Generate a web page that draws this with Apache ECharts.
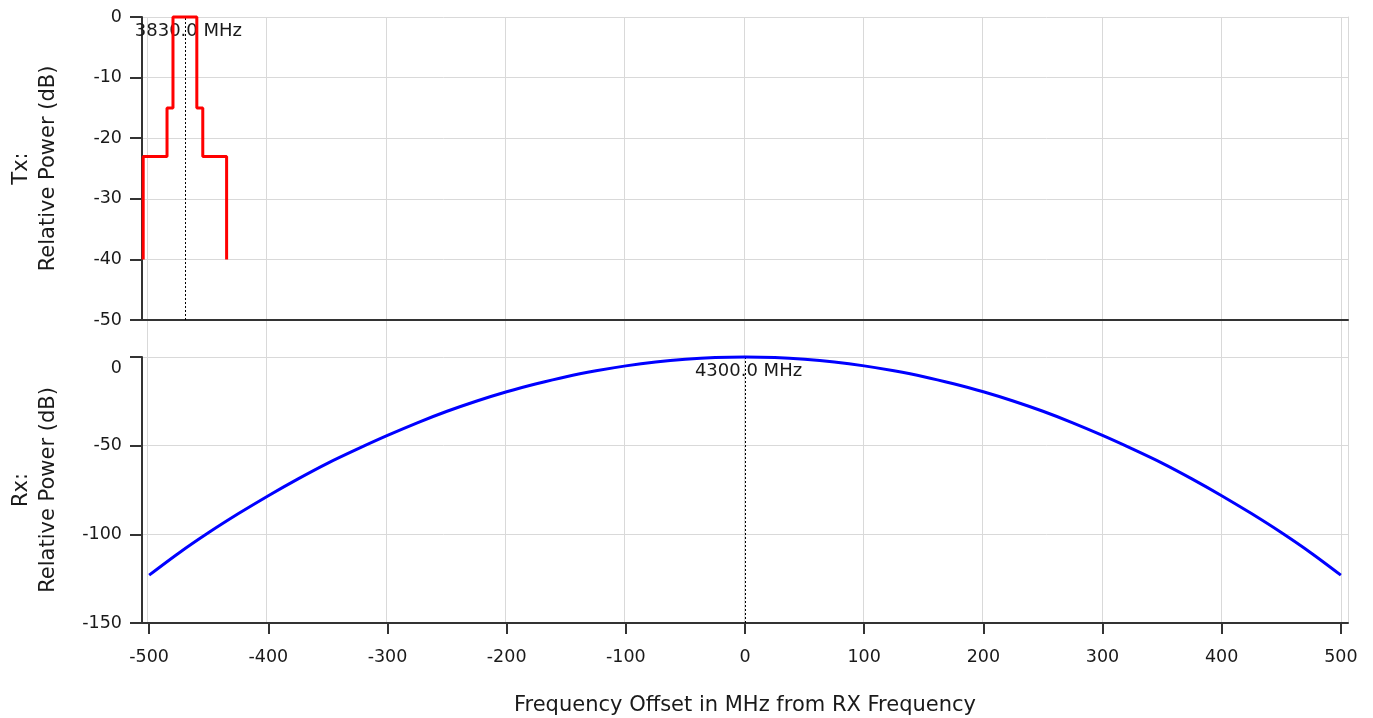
<!DOCTYPE html>
<html>
<head>
<meta charset="utf-8">
<script src="https://cdn.jsdelivr.net/npm/echarts@6/dist/echarts.min.js"></script>
<style>
html,body{margin:0;padding:0;background:#fff;}
#chart{width:1373px;height:718px;}
</style>
</head>
<body>
<div id="chart"></div>
<script>
// ---- data ----
const xMin = -506;
const xMax = 506;
const xTicks = [-500, -400, -300, -200, -100, 0, 100, 200, 300, 400, 500];
const txYTicks = [0, -10, -20, -30, -40, -50];
const rxYTicks = [0, -50, -100, -150];

const txFreq  = [-505, -505, -485, -485, -480, -480, -460, -460, -455, -455, -435, -435];
const txPower = [-40,  -23,  -23,  -15,  -15,   0,    0,   -15,  -15,  -23,  -23,  -40];

const rxFreq  = [-500, -475, -450, -425, -400, -375, -350, -325, -300, -275, -250, -225, -200, -175, -150, -125, -100, -75, -50, -25,
                 0, 25, 50, 75, 100, 125, 150, 175, 200, 225, 250, 275, 300, 325, 350, 375, 400, 425, 450, 475, 500];
const rxPower = [-123, -110.5, -99, -88.3, -78.2, -68.7, -59.8, -51.8, -44.2, -37.1, -30.6, -24.8, -19.6, -15.1, -11.1, -7.8, -5, -2.8, -1.25, -0.3,
                 0, -0.3, -1.25, -2.8, -5, -7.8, -11.1, -15.1, -19.6, -24.8, -30.6, -37.1, -44.2, -51.8, -59.8, -68.7, -78.2, -88.3, -99, -110.5, -123];

const txMarkerFreq = -470;
const txMarkerLabel = '3830.0 MHz';
const rxMarkerFreq = 0;
const rxMarkerLabel = '4300.0 MHz';

const txAxisName = 'Tx:\nRelative Power (dB)';
const rxAxisName = 'Rx:\nRelative Power (dB)';
const xAxisName = 'Frequency Offset in MHz from RX Frequency';

// ---- styles ----
const FONT = 'DejaVu Sans';
const gridColor = '#d9d9d9';
const axisColor = '#333333';
const textColor = '#1a1a1a';

const txData = txFreq.map((f, i) => [f, txPower[i]]);
const rxData = rxFreq.map((f, i) => [f, rxPower[i]]);

const L = 140, W = 1208;

const chart = echarts.init(document.getElementById('chart'), null, {renderer: 'canvas'});
chart.setOption({
  animation: false,
  backgroundColor: '#fff',
  grid: [
    {left: L, top: 17, width: W, height: 606},
    {left: L, top: 17, width: W, height: 303},
    {left: L, top: 357, width: W, height: 266}
  ],
  xAxis: [
    {
      gridIndex: 0, type: 'value', min: xMin, max: xMax,
      axisLine: {show: false},
      axisTick: {show: false, customValues: xTicks},
      axisLabel: {show: false, customValues: xTicks},
      splitLine: {show: true, lineStyle: {color: gridColor, width: 1}}
    },
    {
      gridIndex: 1, type: 'value', min: xMin, max: xMax,
      axisLine: {show: true, onZero: false, lineStyle: {color: axisColor, width: 2}},
      axisTick: {show: false},
      axisLabel: {show: false},
      splitLine: {show: false}
    },
    {
      gridIndex: 2, type: 'value', min: xMin, max: xMax,
      axisLine: {show: true, onZero: false, lineStyle: {color: axisColor, width: 2}},
      axisTick: {show: true, length: 11, customValues: xTicks, lineStyle: {color: axisColor, width: 2}},
      axisLabel: {show: true, customValues: xTicks, margin: 25, fontFamily: FONT, fontSize: 17.5, color: textColor},
      splitLine: {show: false},
      name: xAxisName, nameLocation: 'middle', nameGap: 72,
      nameTextStyle: {fontFamily: FONT, fontSize: 21, color: textColor}
    }
  ],
  yAxis: [
    {
      gridIndex: 0, type: 'value', min: 0, max: 1, position: 'right',
      axisLine: {show: true, onZero: false, lineStyle: {color: gridColor, width: 1}},
      axisTick: {show: false}, axisLabel: {show: false}, splitLine: {show: false}
    },
    {
      gridIndex: 1, type: 'value', min: -50, max: 0, interval: 10,
      axisLine: {show: true, onZero: false, lineStyle: {color: axisColor, width: 2}},
      axisTick: {show: true, length: 12, lineStyle: {color: axisColor, width: 2}},
      axisLabel: {margin: 20, fontFamily: FONT, fontSize: 17.5, color: textColor},
      splitLine: {show: true, lineStyle: {color: gridColor, width: 1}},
      name: txAxisName, nameLocation: 'middle', nameGap: 80, nameRotate: 90,
      nameTextStyle: {fontFamily: FONT, fontSize: 21, lineHeight: 27, color: textColor, align: 'center'}
    },
    {
      gridIndex: 2, type: 'value', min: -150, max: 0, interval: 50,
      axisLine: {show: true, onZero: false, lineStyle: {color: axisColor, width: 2}},
      axisTick: {show: true, length: 12, lineStyle: {color: axisColor, width: 2}},
      axisLabel: {
        margin: 20, fontFamily: FONT, fontSize: 17.5, color: textColor,
        formatter: function (v) { return v === 0 ? '{z|0}' : String(v); },
        rich: {z: {fontFamily: FONT, fontSize: 17.5, color: textColor, padding: [22, 0, 0, 0]}}
      },
      splitLine: {show: true, lineStyle: {color: gridColor, width: 1}},
      name: rxAxisName, nameLocation: 'middle', nameGap: 80, nameRotate: 90,
      nameTextStyle: {fontFamily: FONT, fontSize: 21, lineHeight: 27, color: textColor, align: 'center'}
    }
  ],
  series: [
    {
      type: 'line', xAxisIndex: 1, yAxisIndex: 1, data: txData,
      showSymbol: false, clip: false, z: 5,
      lineStyle: {color: '#ff0000', width: 3},
      markLine: {
        silent: true, symbol: 'none',
        lineStyle: {color: '#000', type: [2, 2], width: 1},
        label: {show: false},
        data: [{xAxis: txMarkerFreq}]
      },
      markPoint: {
        silent: true, symbol: 'circle', symbolSize: 0,
        label: {show: true, position: 'bottom', distance: 5, offset: [3.5, 0], formatter: txMarkerLabel,
                fontFamily: FONT, fontSize: 18, color: textColor},
        data: [{coord: [txMarkerFreq, 0]}]
      }
    },
    {
      type: 'line', xAxisIndex: 2, yAxisIndex: 2, data: rxData,
      showSymbol: false, clip: false, smooth: 0.3, z: 5,
      lineStyle: {color: '#0000ff', width: 3},
      markLine: {
        silent: true, symbol: 'none',
        lineStyle: {color: '#000', type: [2, 2], width: 1},
        label: {show: false},
        data: [{xAxis: rxMarkerFreq}]
      },
      markPoint: {
        silent: true, symbol: 'circle', symbolSize: 0,
        label: {show: true, position: 'bottom', distance: 5, offset: [3.5, 0], formatter: rxMarkerLabel,
                fontFamily: FONT, fontSize: 18, color: textColor},
        data: [{coord: [rxMarkerFreq, 0]}]
      }
    }
  ]
});
</script>
</body>
</html>
